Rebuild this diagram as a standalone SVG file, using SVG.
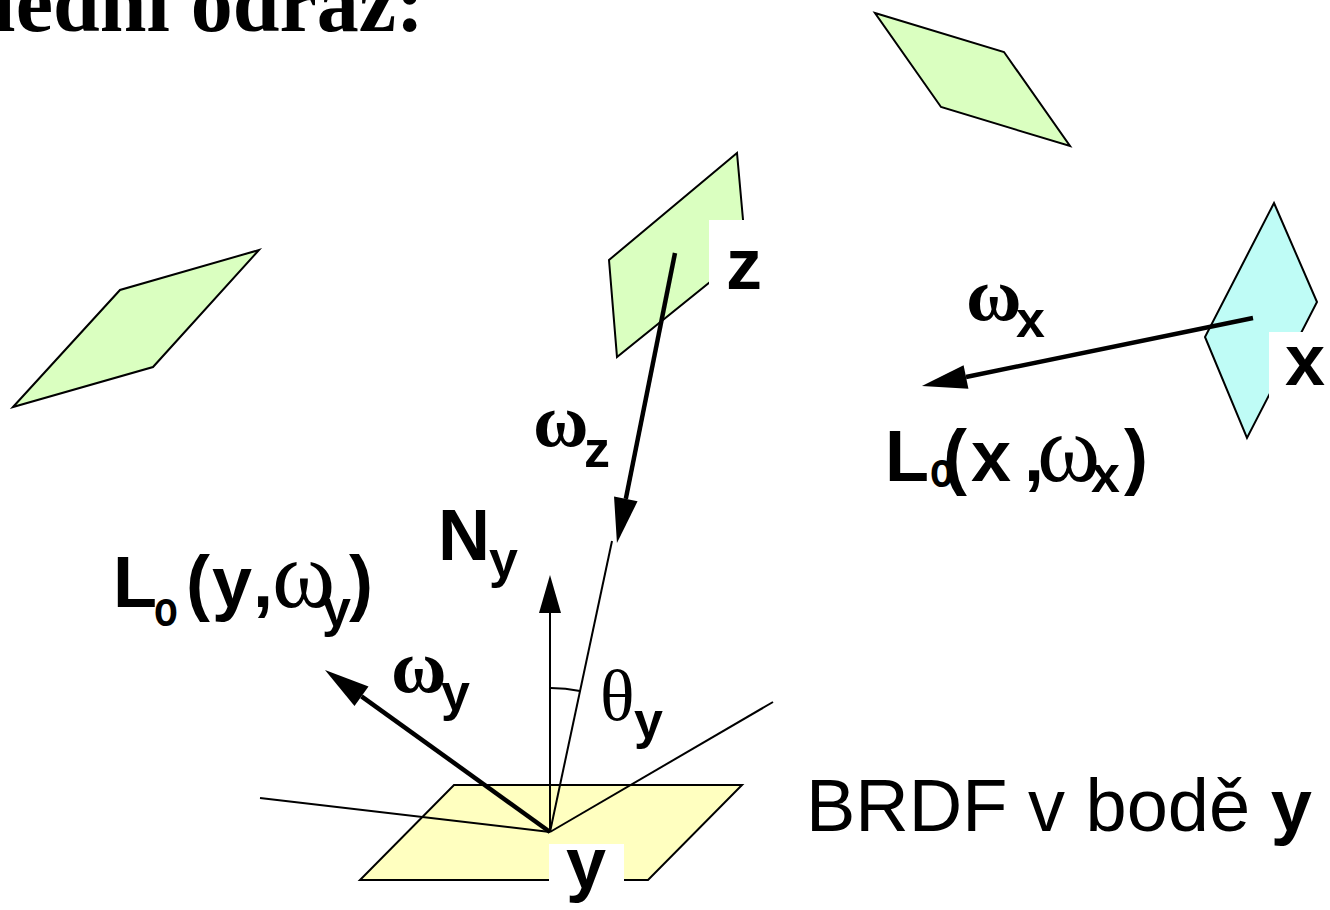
<svg xmlns="http://www.w3.org/2000/svg" width="1330" height="910" viewBox="0 0 1330 910">
<style>
.g{fill:#daffc0;stroke:#000;stroke-width:2}
.c{fill:#bffcf6;stroke:#000;stroke-width:2}
.yl{fill:#ffffc0;stroke:#000;stroke-width:2}
.thin{stroke:#000;stroke-width:2;fill:none}
.thick{stroke:#000;stroke-width:4.5;fill:none}
.b{font-family:"Liberation Sans",Arial,sans-serif;font-weight:bold;font-size:72px;fill:#000}
.s{font-size:52px}
.gr{font-family:"Liberation Serif","Times New Roman",serif;font-weight:normal;font-size:96px}
.gb{font-family:"Liberation Serif","Times New Roman",serif;font-weight:bold;font-size:76px}
.th{font-family:"Liberation Serif","Times New Roman",serif;font-weight:normal}
.bg{fill:#fff}
</style>
<defs>
<marker id="ah" markerUnits="userSpaceOnUse" orient="auto" markerWidth="50" markerHeight="30" refX="0" refY="0" viewBox="0 -15 50 30" overflow="visible">
<path d="M0,-12 L45,0 L0,12 Z" fill="#000"/>
</marker>
<marker id="ahs" markerUnits="userSpaceOnUse" orient="auto" markerWidth="40" markerHeight="24" refX="0" refY="0" viewBox="0 -12 40 24" overflow="visible">
<path d="M0,-11 L38,0 L0,11 Z" fill="#000"/>
</marker>
</defs>

<text x="424" y="31" text-anchor="end" style="font-family:'Liberation Serif','Times New Roman',serif;font-weight:bold;font-size:84px">lední odraz:</text>

<g id="patch-top-right"><polygon class="g" points="875,13 1004,52 1070,146 941,107"/></g>
<g id="patch-left"><polygon class="g" points="13,407 120,290 259,250 153,367"/></g>
<g id="patch-z">
<polygon class="g" points="609,260 737,153 746,253 617,357"/>
</g>
<g id="patch-x">
<polygon class="c" points="1274,203 1317,302 1247,438 1205,337"/>
</g>
<g id="patch-y">
<polygon class="yl" points="454,785 742,785 648,880 360,880"/>
</g>

<g id="connectors">
<line class="thin" x1="550" y1="832" x2="773" y2="702"/>
<line class="thin" x1="550" y1="832" x2="260" y2="798"/>
<line class="thin" x1="550" y1="832" x2="612" y2="541"/>
<line class="thin" x1="550" y1="832" x2="550" y2="613" marker-end="url(#ahs)"/>
<path class="thin" d="M550,688 A144,144 0 0 1 580,691"/>
<line class="thick" x1="550" y1="832" x2="361.5" y2="696.3" marker-end="url(#ah)"/>
<line class="thick" x1="675" y1="253" x2="625.8" y2="498.9" marker-end="url(#ah)"/>
<line class="thick" x1="1253" y1="318" x2="966" y2="377" marker-end="url(#ah)"/>
</g>

<g id="label-z">
<rect class="bg" x="709" y="220" width="62" height="85"/>
<text class="b" x="726" y="289">z</text>
</g>
<g id="label-x">
<rect class="bg" x="1269" y="332" width="61" height="66"/>
<text class="b" x="1285" y="385">x</text>
</g>
<g id="label-y">
<rect class="bg" x="549" y="844" width="75" height="66"/>
<text class="b" x="566" y="888">y</text>
</g>

<g id="label-omega-z">
<text class="b"><tspan class="gb" x="533" y="446">ω</tspan><tspan class="s" x="584" y="467">z</tspan></text>
</g>
<g id="label-omega-x">
<text class="b"><tspan class="gb" x="966" y="320">ω</tspan><tspan class="s" x="1016" y="337">x</tspan></text>
</g>
<g id="label-omega-y">
<text class="b"><tspan class="gb" x="391" y="692">ω</tspan><tspan class="s" x="441" y="710">y</tspan></text>
</g>
<g id="label-N">
<text class="b"><tspan x="438" y="560">N</tspan><tspan class="s" x="489" y="577">y</tspan></text>
</g>
<g id="label-theta">
<text class="b"><tspan class="th" x="600" y="720">θ</tspan><tspan class="s" x="634" y="738">y</tspan></text>
</g>

<g id="label-Lx">
<text class="b"><tspan x="885" y="481">L</tspan><tspan x="943" y="481">(</tspan><tspan x="971" y="481">x</tspan><tspan x="1024" y="481">,</tspan><tspan class="gr" x="1037" y="481">ω</tspan><tspan class="s" x="1091" y="492">x</tspan><tspan x="1124" y="481">)</tspan></text>
<text class="b" transform="translate(930,487) scale(0.78,1)" style="font-size:50px">o</text>
</g>
<g id="label-Ly">
<text class="b"><tspan x="113" y="607">L</tspan><tspan x="186" y="607">(</tspan><tspan x="212" y="607">y</tspan><tspan x="253" y="607">,</tspan><tspan class="gr" x="272" y="607">ω</tspan><tspan class="s" x="322" y="626">y</tspan><tspan x="349" y="607">)</tspan></text>
<text class="b" transform="translate(154,626) scale(0.78,1)" style="font-size:50px">o</text>
</g>

<g id="label-brdf">
<text x="806" y="831" style="font-family:'Liberation Sans',Arial,sans-serif;font-size:74px">BRDF v bodě <tspan font-weight="bold">y</tspan></text>
</g>
</svg>
